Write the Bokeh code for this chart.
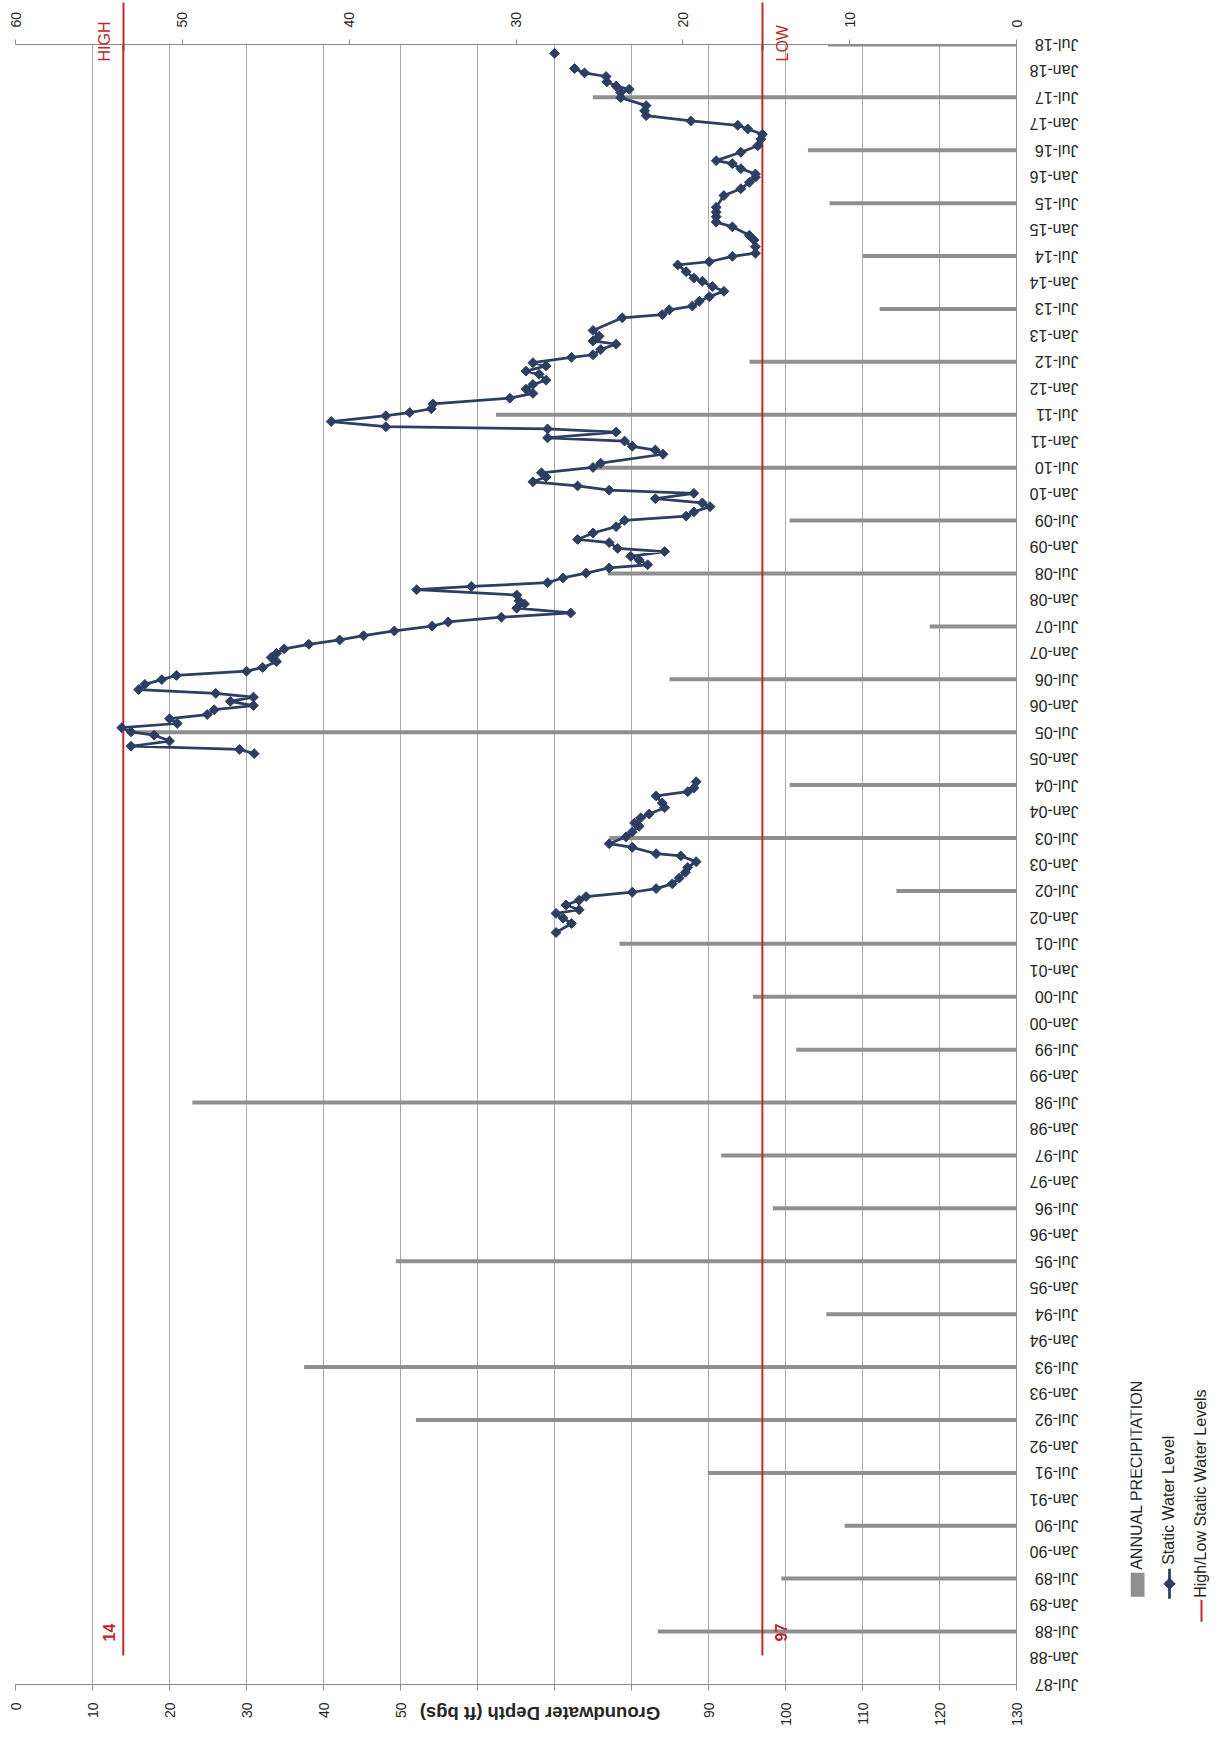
import math
from datetime import datetime
from bokeh.plotting import figure
from bokeh.layouts import row
from bokeh.models import (Range1d, LinearAxis, FixedTicker, MonthsTicker,
                          DatetimeTickFormatter, Label)
from bokeh.embed import file_html
from bokeh.resources import INLINE

# ---------------- data ----------------
precip_year = list(range(1988, 2019))
precip_in = [21.5, 14.1, 10.3, 18.5, 36.0, 42.7, 11.4, 37.2, 14.6, 17.7,
             49.4, 13.2, 15.8, 23.8, 7.2, 24.4, 13.6, 53.3, 20.8, 5.2,
             24.5, 13.6, 25.2, 31.2, 16.0, 8.2, 9.2, 11.2, 12.5, 25.4, 11.3]

wl_date = [
    "2001-09-17", "2001-11-18", "2001-12-25", "2002-01-27", "2002-02-21", "2002-03-26",
    "2002-04-28", "2002-05-23", "2002-06-22", "2002-07-17", "2002-08-19", "2002-09-28",
    "2002-11-07", "2002-12-10", "2003-01-19", "2003-02-28", "2003-03-15", "2003-04-28",
    "2003-05-23", "2003-07-10", "2003-08-12", "2003-09-21", "2003-10-13", "2003-11-18",
    "2003-12-14", "2004-01-27", "2004-02-28", "2004-04-17", "2004-05-16", "2004-06-11",
    "2004-07-24", "2004-10-01",
    "2005-02-03", "2005-03-04", "2005-03-26", "2005-05-01", "2005-06-11", "2005-07-03",
    "2005-08-01", "2005-08-30", "2005-10-02", "2005-10-31", "2005-12-03", "2006-01-01",
    "2006-01-30", "2006-02-28", "2006-03-26", "2006-04-21", "2006-05-27", "2006-06-29",
    "2006-07-28", "2006-08-26", "2006-09-21", "2006-10-31", "2006-11-29", "2006-12-28",
    "2007-01-27", "2007-02-28", "2007-03-30", "2007-04-28", "2007-05-31", "2007-07-03",
    "2007-08-01", "2007-09-03", "2007-10-02", "2007-11-04", "2007-12-03", "2007-12-25",
    "2008-02-03", "2008-03-11", "2008-04-02", "2008-04-28", "2008-05-31", "2008-07-03",
    "2008-08-08", "2008-08-30", "2008-10-02", "2008-10-27", "2008-11-29", "2008-12-21",
    "2009-01-30", "2009-02-21", "2009-04-06", "2009-05-20", "2009-07-03", "2009-08-01",
    "2009-08-30", "2009-10-05", "2009-10-31", "2009-11-29", "2010-01-05", "2010-01-27",
    "2010-02-25", "2010-03-26", "2010-04-28", "2010-05-27", "2010-07-03", "2010-08-01",
    "2010-10-02", "2010-10-31", "2010-11-26", "2011-01-01", "2011-01-23", "2011-03-04",
    "2011-03-26", "2011-04-10", "2011-05-16", "2011-06-25", "2011-07-17", "2011-08-12",
    "2011-09-14", "2011-10-24", "2011-11-26", "2011-12-25", "2012-01-27", "2012-02-25",
    "2012-04-06", "2012-04-28", "2012-06-03", "2012-06-25", "2012-08-01", "2012-08-19",
    "2012-09-24", "2012-10-31", "2012-11-22", "2012-12-25", "2013-02-03", "2013-05-01",
    "2013-05-23", "2013-06-25", "2013-07-21", "2013-08-23", "2013-09-24", "2013-10-31",
    "2013-12-03", "2014-01-08", "2014-01-30", "2014-03-15", "2014-05-01", "2014-05-23",
    "2014-06-29", "2014-07-21", "2014-09-03", "2014-10-20", "2014-11-22", "2015-01-19",
    "2015-02-21", "2015-03-30", "2015-05-01", "2015-06-03", "2015-08-23", "2015-10-09",
    "2015-11-22", "2015-12-28", "2016-01-19", "2016-02-25", "2016-03-30", "2016-04-20",
    "2016-06-17", "2016-08-01", "2016-09-16", "2016-10-19", "2016-11-25", "2016-12-20",
    "2017-01-19", "2017-02-25", "2017-03-30", "2017-05-05", "2017-06-29", "2017-08-04",
    "2017-08-26", "2017-09-17", "2017-10-16", "2017-11-22", "2017-12-17", "2018-01-16",
    "2018-02-20", "2018-05-01",
]
wl_depth = [
    70.2, 72.2, 71.1, 70.2, 73.2, 71.5,
    73.2, 74.1, 80.1, 83.2, 85.3, 86.2,
    87.0, 87.3, 88.4, 86.4, 83.2, 80.1,
    77.1, 79.3, 80.1, 81.0, 80.4, 81.2,
    82.3, 84.3, 84.0, 83.2, 87.3, 88.1,
    88.4, None,
    31.0, 29.1, 15.0, 20.0, 18.0, 15.0,
    13.8, 21.0, 20.0, 24.9, 25.8, 30.9,
    27.9, 30.9, 26.0, 16.0, 16.8, 19.0,
    20.9, 30.0, 32.1, 33.9, 33.2, 33.9,
    34.9, 38.1, 42.1, 45.2, 49.2, 54.1,
    56.2, 63.1, 72.1, 65.1, 66.1, 65.4,
    65.1, 52.1, 59.2, 69.1, 71.1, 74.1,
    77.1, 82.1, 81.0, 79.9, 84.3, 78.2,
    77.1, 73.0, 75.0, 78.0, 79.1, 87.1,
    88.1, 90.2, 89.2, 83.1, 88.1, 77.1,
    73.0, 67.2, 68.9, 68.3, 75.0, 76.0,
    84.1, 83.1, 80.1, 79.1, 69.1, 78.0,
    69.1, 48.1, 41.0, 48.1, 51.2, 54.0,
    54.2, 64.2, 67.2, 66.3, 67.2, 68.9,
    68.0, 66.3, 68.9, 67.2, 72.2, 75.0,
    76.0, 78.0, 75.0, 75.8, 75.0, 78.8,
    84.0, 84.9, 87.9, 88.8, 90.1, 92.0,
    90.5, 89.2, 88.1, 87.1, 86.0, 90.1,
    93.1, 96.1, 96.1, 95.9, 95.3, 93.1,
    91.0, 91.0, 91.0, 91.0, 92.0, 94.2,
    95.3, 96.1, 96.1, 94.2, 93.1, 91.0,
    94.2, 96.4, 96.8, 97.0, 95.1, 93.8,
    87.7, 81.9, 81.7, 81.9, 78.6, 78.6,
    79.7, 78.0, 76.8, 76.7, 73.9, 72.6,
    None, 70.0,
]

high_level = 14
low_level = 97
level_span = ["1988-01-17", "2019-04-01"]
level_names = {11.5: "HIGH", 99.6: "LOW"}     # label positions beside the two lines

depth_ticks = list(range(0, 131, 10))
precip_ticks = list(range(0, 61, 10))
depth_title = "Groundwater Depth (ft bgs)"

# ---------------- helpers ----------------
EPOCH = datetime(1970, 1, 1)


def ms(s):
    return (datetime.fromisoformat(s) - EPOCH).total_seconds() * 1000.0


NAVY = "#2d3e63"
RED = "#c1272d"
GRAY_BAR = "#8f8f8f"
GRID = "#a8a8a8"
AXIS = "#8c8c8c"
TXT = "#262626"
FONT = "Liberation Sans"

H = 1737
TOP, BOTTOM = 44, 48          # borders above / below the plotting frame
MAIN_W = 1130
LW = 88

wl_y = [ms(d) for d in wl_date]
wl_x = [float("nan") if v is None else v for v in wl_depth]
bar_y = [ms("%d-07-01" % y) for y in precip_year]

# ---------------- main figure ----------------
p = figure(width=MAIN_W, height=H, output_backend="svg", toolbar_location=None,
           x_range=Range1d(0, 130),
           y_range=Range1d(ms("1987-07-01"), ms("2018-07-01")),
           x_axis_location="below", y_axis_location="right", y_axis_type="datetime",
           min_border_left=15, min_border_right=112,
           min_border_top=TOP, min_border_bottom=BOTTOM)
p.extra_x_ranges = {"precip": Range1d(60, 0)}
p.outline_line_color = None
p.background_fill_color = "white"
p.border_fill_color = "white"

p.xgrid.ticker = FixedTicker(ticks=depth_ticks)
p.xgrid.grid_line_color = GRID
p.xgrid.grid_line_width = 1
p.ygrid.visible = False

# bottom axis: groundwater depth
bx = p.below[0]
bx.ticker = FixedTicker(ticks=depth_ticks)
bx.major_label_overrides = {60: "", 70: "", 80: ""}
bx.major_label_orientation = math.pi / 2
bx.major_label_text_font = FONT
bx.major_label_text_font_size = "14px"
bx.major_label_text_color = TXT
bx.major_label_standoff = 12
bx.axis_line_color = AXIS
bx.major_tick_line_color = AXIS
bx.major_tick_out = 6
bx.major_tick_in = 0
bx.minor_tick_line_color = None

# the axis title sits over the middle labels (as in the scanned chart): it is
# carried by a tick-less helper axis whose single label is the title text
ttl = LinearAxis(ticker=FixedTicker(ticks=[52.5]))
ttl.major_label_overrides = {52.5: depth_title}
ttl.axis_line_color = None
ttl.major_tick_line_color = None
ttl.minor_tick_line_color = None
ttl.major_tick_out = 0
ttl.major_tick_in = 0
ttl.major_label_orientation = math.pi
ttl.major_label_standoff = -15
ttl.major_label_text_font = FONT
ttl.major_label_text_font_size = "18.5px"
ttl.major_label_text_font_style = "bold"
ttl.major_label_text_line_height = 0.9
ttl.major_label_text_color = TXT
p.add_layout(ttl, "below")

# top axis: annual precipitation (closest to the frame)
tx = LinearAxis(x_range_name="precip", ticker=FixedTicker(ticks=precip_ticks))
tx.major_label_orientation = math.pi / 2
tx.major_label_text_font = FONT
tx.major_label_text_font_size = "14px"
tx.major_label_text_color = TXT
tx.major_label_standoff = 12
tx.axis_line_color = AXIS
tx.major_tick_line_color = AXIS
tx.major_tick_out = 5
tx.major_tick_in = 0
tx.minor_tick_line_color = None
p.add_layout(tx, "above")

# above the frame the red high/low lines run on past the top axis:
# drawn as long red ticks of a label-less helper axis
ext = LinearAxis(ticker=FixedTicker(ticks=[high_level, low_level]))
ext.major_label_overrides = {high_level: "", low_level: ""}
ext.major_label_orientation = math.pi / 2
ext.major_label_standoff = 0
ext.axis_line_color = None
ext.minor_tick_line_color = None
ext.major_tick_line_color = RED
ext.major_tick_line_width = 2
ext.major_tick_out = 6
ext.major_tick_in = 42
p.add_layout(ext, "above")

# HIGH / LOW names at the top end of the lines (outermost helper axis,
# pulled back down over the frame edge with a negative standoff)
nm = LinearAxis(ticker=FixedTicker(ticks=list(level_names.keys())))
nm.major_label_overrides = level_names
nm.major_label_orientation = math.pi / 2
nm.axis_line_color = None
nm.major_tick_line_color = None
nm.minor_tick_line_color = None
nm.major_tick_out = 0
nm.major_tick_in = 0
nm.major_label_standoff = -59
nm.major_label_text_font = FONT
nm.major_label_text_font_size = "16px"
nm.major_label_text_color = RED
p.add_layout(nm, "above")

# right axis: dates every six months, upside-down labels
ry = p.right[0]
ry.ticker = MonthsTicker(months=[0, 6])
ry.formatter = DatetimeTickFormatter(months="%b-%y", years="%b-%y", days="%b-%y",
                                     strip_leading_zeros=False)
ry.major_label_orientation = math.pi
ry.major_label_text_font = FONT
ry.major_label_text_font_size = "16px"
ry.major_label_text_color = TXT
ry.major_label_standoff = 62
ry.axis_line_color = AXIS
ry.major_tick_out = 0
ry.major_tick_in = 0
ry.minor_tick_line_color = None

# annual precipitation bars
p.segment(x0=[0] * len(precip_in), x1=precip_in, y0=bar_y, y1=bar_y,
          x_range_name="precip", line_color=GRAY_BAR, line_width=4)

# high / low static levels
lv_y0 = ms(level_span[0])
lv_y1 = ms(level_span[1])
p.segment(x0=[high_level, low_level], x1=[high_level, low_level],
          y0=[lv_y0, lv_y0], y1=[lv_y1, lv_y1], line_color=RED, line_width=2)

# static water level
p.line(wl_x, wl_y, line_color=NAVY, line_width=2.75)
p.scatter(wl_x, wl_y, marker="square", angle=math.pi / 4, size=7,
          fill_color=NAVY, line_color=NAVY)


def lab(x, y, text, size="16px", bold=False):
    p.add_layout(Label(x=x, y=y, text=text, angle=math.pi / 2, text_color=RED,
                       text_font=FONT, text_font_size=size,
                       text_font_style="bold" if bold else "normal",
                       text_align="center", text_baseline="middle"))


lab(12.1, ms("1988-06-24"), str(high_level), bold=True)
lab(99.4, ms("1988-06-24"), str(low_level), bold=True)

# ---------------- legend (separate strip to the right) ----------------
lg = figure(width=LW, height=H, output_backend="svg", toolbar_location=None,
            x_range=Range1d(0, LW), y_range=Range1d(BOTTOM, H - TOP),
            x_axis_type=None, y_axis_type=None,
            min_border_left=0, min_border_right=0,
            min_border_top=TOP, min_border_bottom=BOTTOM)
lg.outline_line_color = None
lg.background_fill_color = "white"
lg.border_fill_color = "white"

lg.quad(left=[0], right=[14], bottom=[136], top=[160], fill_color=GRAY_BAR, line_color=None)
lg.text(x=[6], y=[163], text=["ANNUAL PRECIPITATION"], angle=math.pi / 2,
        text_font={"value": FONT}, text_font_size="16px", text_color=TXT,
        text_align="left", text_baseline="middle")

lg.line(x=[39, 39], y=[134, 164], line_color=NAVY, line_width=2.75)
lg.scatter(x=[39], y=[149], marker="square", angle=math.pi / 4, size=8,
           fill_color=NAVY, line_color=NAVY)
lg.text(x=[38], y=[168], text=["Static Water Level"], angle=math.pi / 2,
        text_font={"value": FONT}, text_font_size="16px", text_color=TXT,
        text_align="left", text_baseline="middle")

lg.line(x=[71, 71], y=[111, 133], line_color=RED, line_width=2)
lg.text(x=[70], y=[135], text=["High/Low Static Water Levels"], angle=math.pi / 2,
        text_font={"value": FONT}, text_font_size="16px", text_color=TXT,
        text_align="left", text_baseline="middle")

layout = row(p, lg)
open("out.html", "w").write(file_html(layout, INLINE))
